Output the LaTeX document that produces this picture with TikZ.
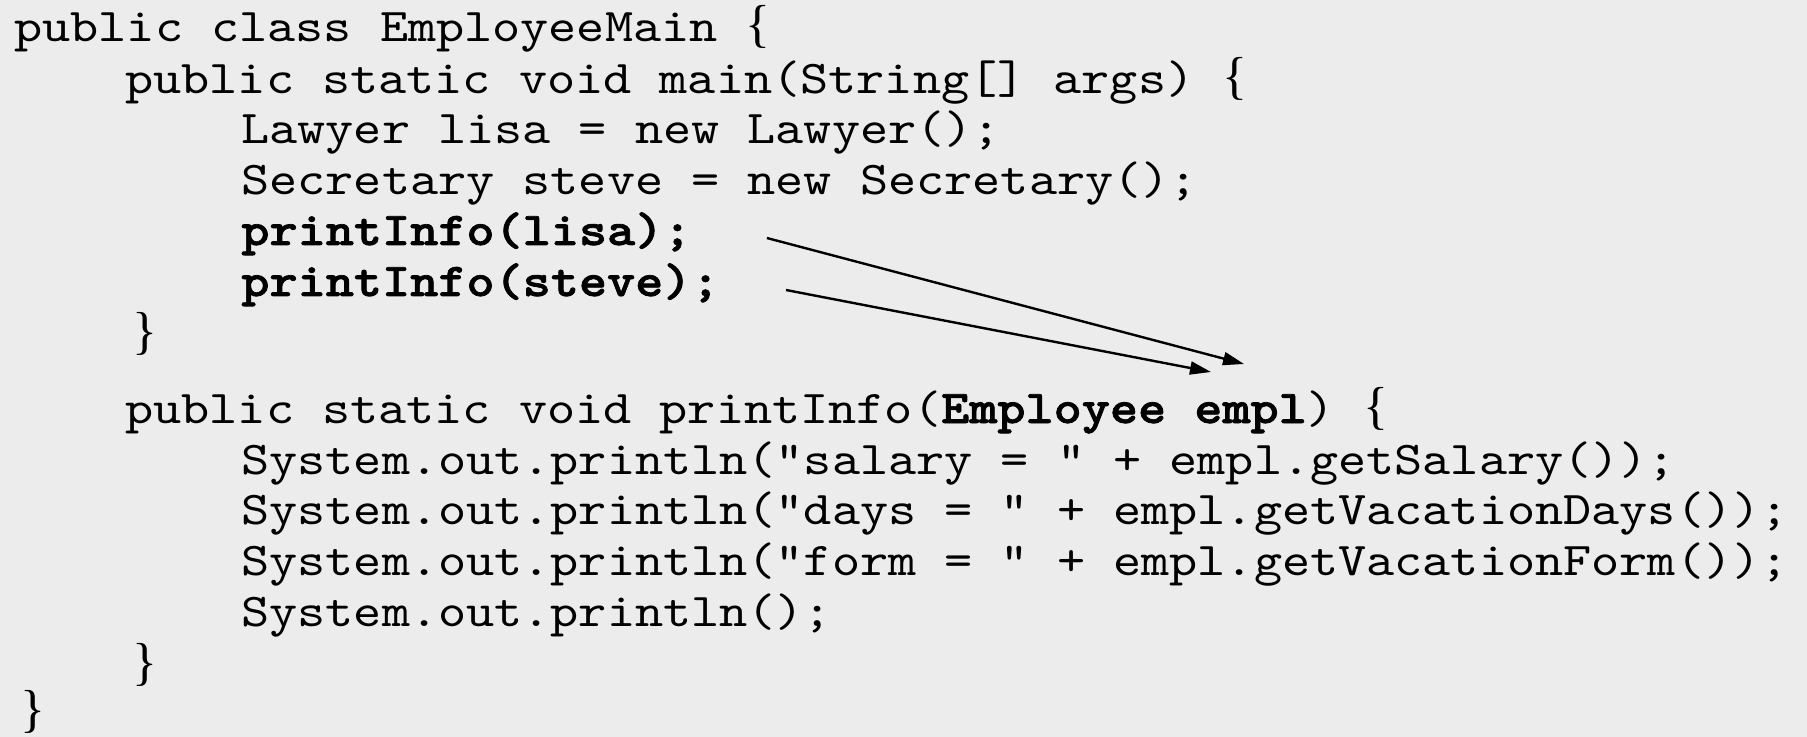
\documentclass[tikz,border=0pt]{standalone}
\usepackage{fontspec}
\newfontfamily\codefont{lmmono10-regular}[Extension=.otf,
  BoldFont=lmmonolt10-bold, BoldFeatures={FakeBold=1.5},
  FakeStretch=1.14]
\newfontfamily\bracefont{Liberation Serif}
\usetikzlibrary{arrows.meta,calc}

\definecolor{paper}{RGB}{236,236,236}
\newcommand{\lbr}{{\fontsize{26pt}{30pt}\bracefont\{}}

\begin{document}
\begin{tikzpicture}[
  x=0.5pt, y=-0.5pt,
  >={Triangle[length=10.5pt, width=6.5pt]},
  code/.style={anchor=base west, inner sep=0pt,
               font=\fontsize{23.5pt}{28pt}\codefont},
  brace/.style={anchor=base west, inner sep=0pt,
                font=\fontsize{26pt}{30pt}\bracefont},
  call/.style={->, line width=1.2pt}
]

% ---------- latar ----------
\fill[paper] (0,0) rectangle (1807,737);
\useasboundingbox (0,0) rectangle (1807,737);

% ---------- kelas dan main ----------
\node[code]  (cls)   at (14,42)   {public class EmployeeMain \lbr};
\node[code]  (main)  at (125,94)  {public static void main(String[] args) \lbr};
\node[code]  (lisa)  at (241,144) {Lawyer lisa = new Lawyer();};
\node[code]  (steve) at (241,195) {Secretary steve = new Secretary();};
\node[code]  (callL) at (241,245) {\textbf{printInfo(lisa);}};
\node[code]  (callS) at (241,296) {\textbf{printInfo(steve);}};
\node[brace] (endM)  at (132,349) {\}};

% ---------- method printInfo ----------
\node[code]  (sig)   at (125,423) {public static void printInfo(\textbf{Employee empl}) \lbr};
\node[code]  (ln1)   at (241,474) {System.out.println("salary = " + empl.getSalary());};
\node[code]  (ln2)   at (241,524) {System.out.println("days = " + empl.getVacationDays());};
\node[code]  (ln3)   at (241,575) {System.out.println("form = " + empl.getVacationForm());};
\node[code]  (ln4)   at (241,626) {System.out.println();};
\node[brace] (endP)  at (132,679) {\}};
\node[brace] (endC)  at (20,726)  {\}};

% ---------- panah: argumen -> parameter ----------
\coordinate (outL) at ($(callL.base east)+(75,-7)$);
\coordinate (outS) at ($(callS.base east)+(66,-6)$);
\coordinate (inL)  at (1244,364);
\coordinate (inS)  at (1211,372);
\draw[call] (outL) -- (inL);
\draw[call] (outS) -- (inS);

\end{tikzpicture}
\end{document}
